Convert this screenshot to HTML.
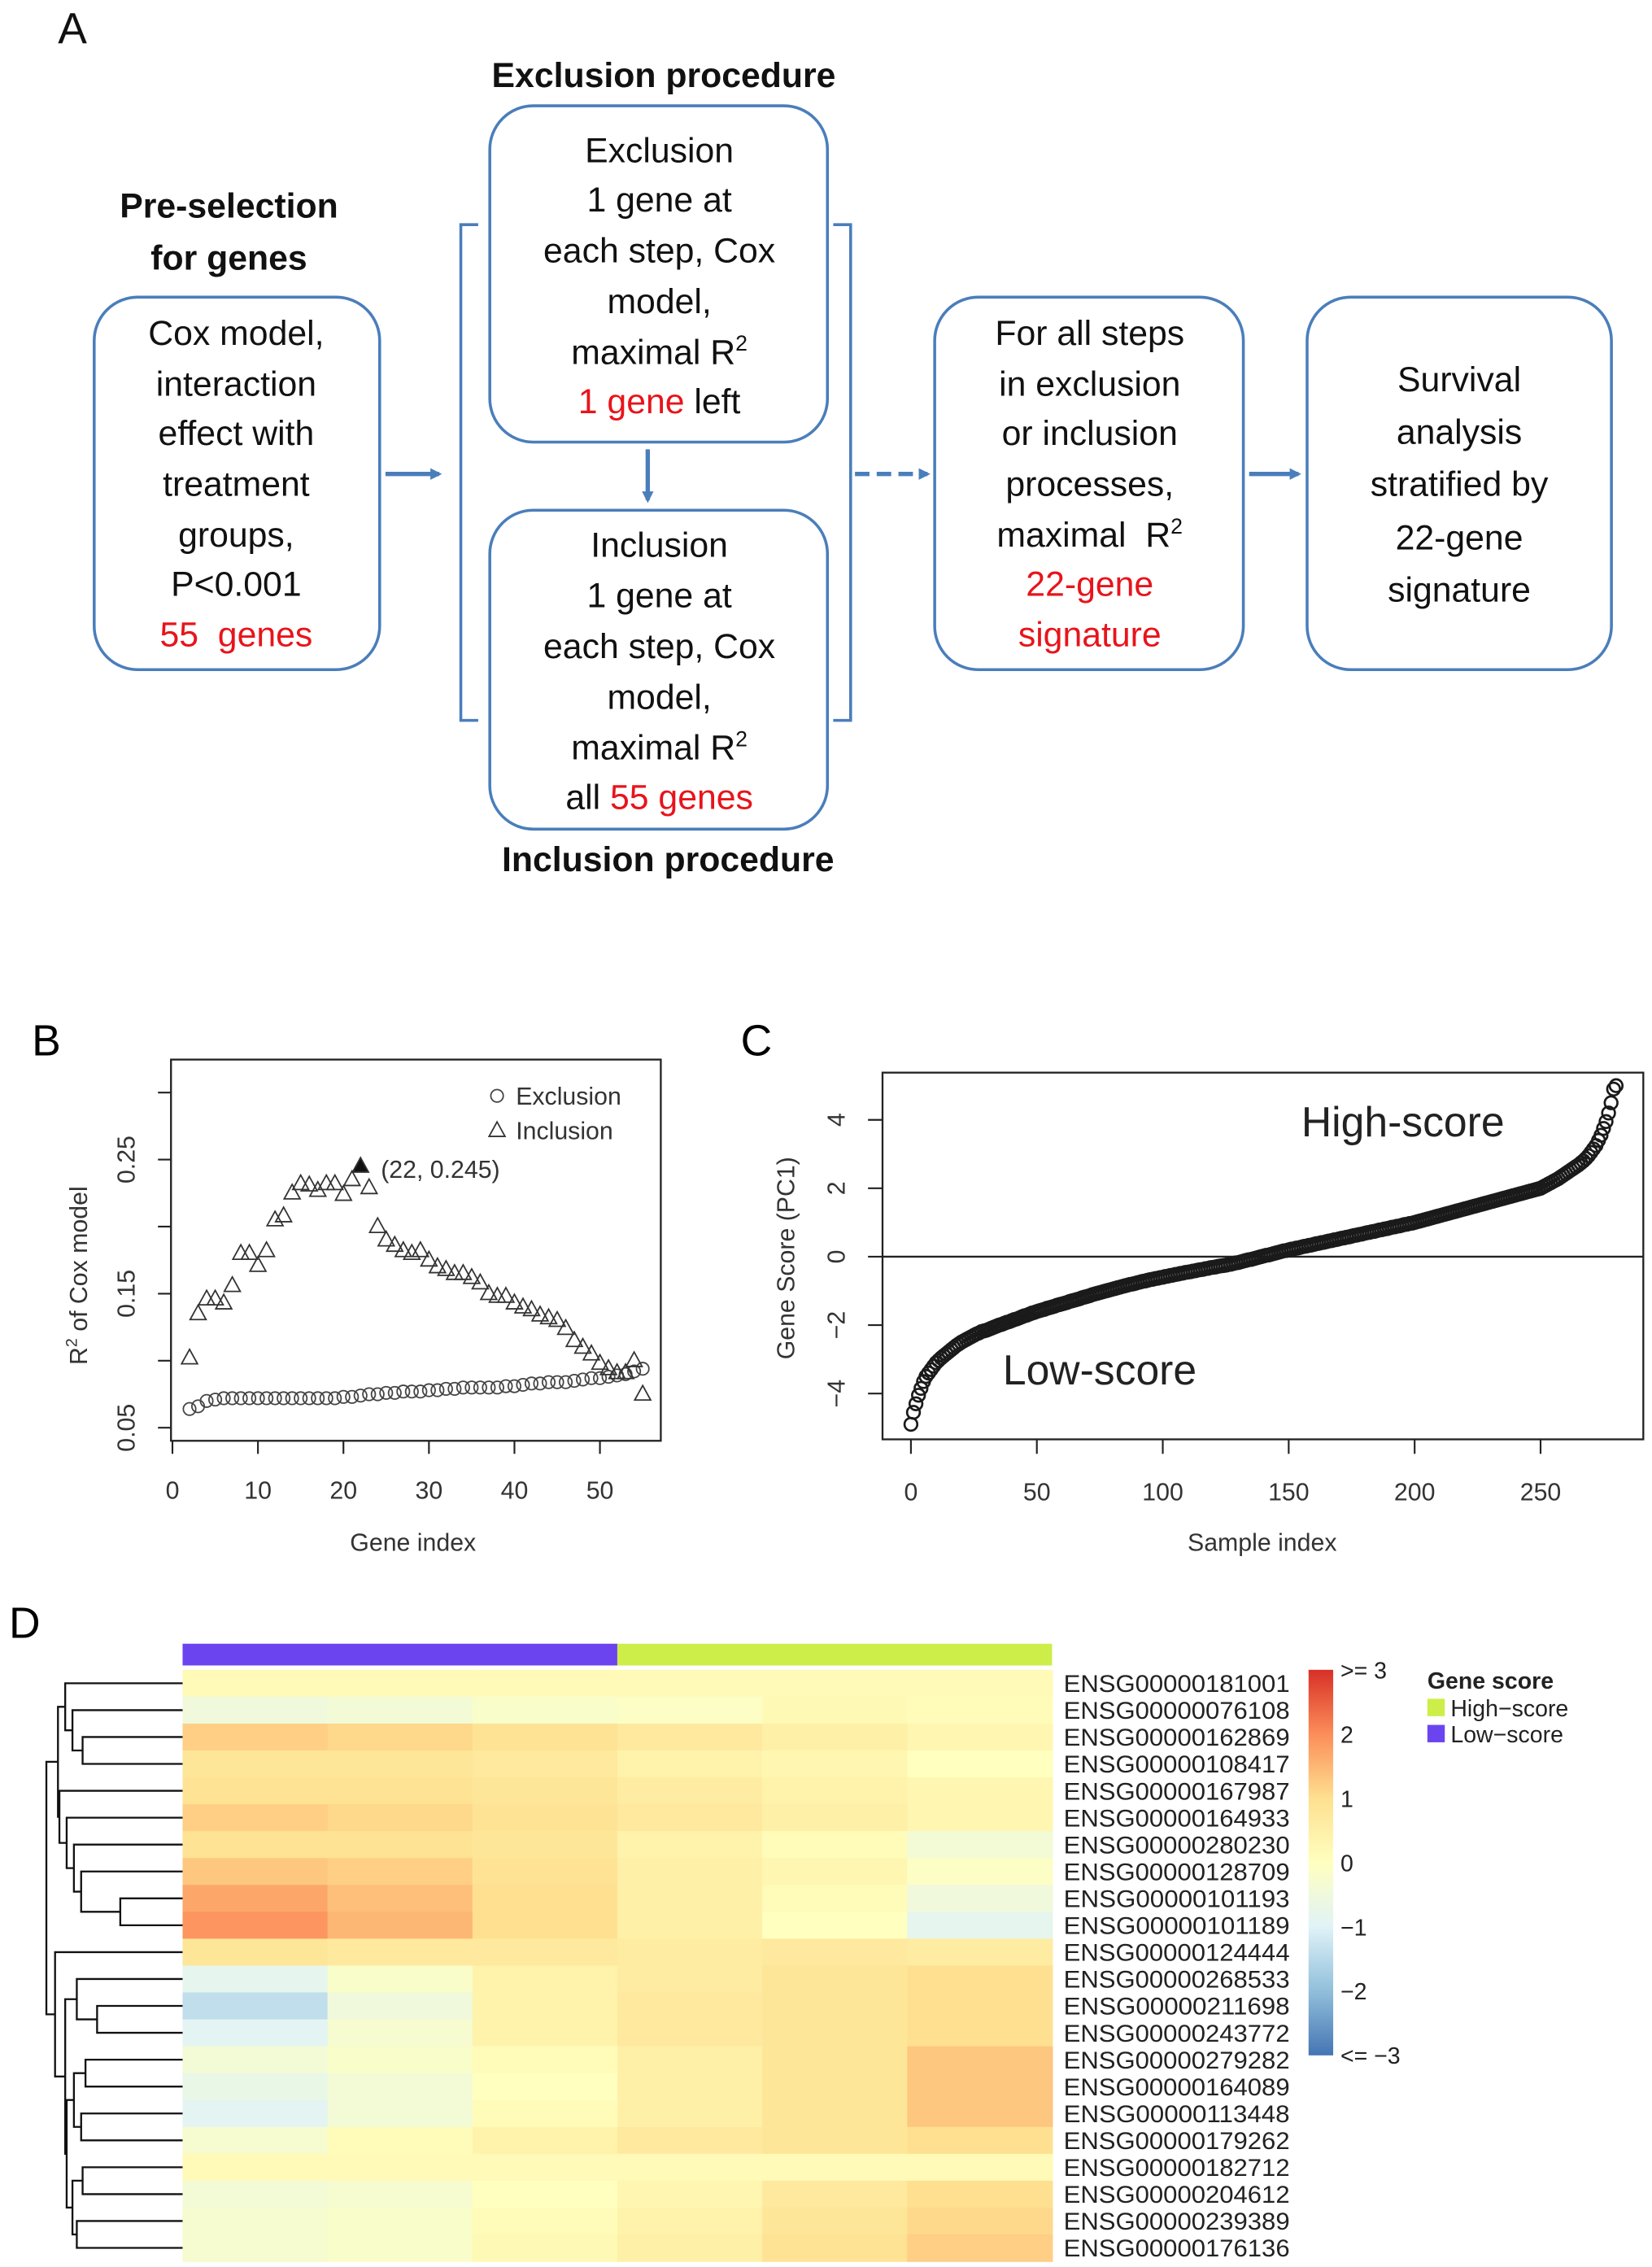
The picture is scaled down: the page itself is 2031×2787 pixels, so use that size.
<!DOCTYPE html>
<html><head><meta charset="utf-8">
<style>
html,body{margin:0;padding:0;background:#fff;}
svg{display:block;}
text{font-family:"Liberation Sans",Arial,sans-serif;}
</style></head>
<body>
<svg id="fig" width="2031" height="2787" viewBox="0 0 1140 1564" preserveAspectRatio="none" xmlns="http://www.w3.org/2000/svg">
<defs>
<marker id="ah" markerWidth="8" markerHeight="8" refX="6" refY="4" orient="auto" markerUnits="userSpaceOnUse"><path d="M0,0 L8,4 L0,8 z" fill="#4a7ebb"/></marker>
<linearGradient id="cbar" x1="0" y1="1" x2="0" y2="0">
<stop offset="0" stop-color="#4575b4"/><stop offset="0.1667" stop-color="#91bfdb"/><stop offset="0.3333" stop-color="#e0f3f8"/><stop offset="0.5" stop-color="#ffffbf"/><stop offset="0.6667" stop-color="#fee090"/><stop offset="0.8333" stop-color="#fc8d59"/><stop offset="1" stop-color="#d73027"/>
</linearGradient>
</defs>

<g font-size="24" text-anchor="middle" fill="#111">
<text x="50" y="30" font-size="30" text-anchor="middle">A</text>
<text x="158" y="150" font-weight="bold" font-size="24">Pre-selection</text>
<text x="158" y="186" font-weight="bold" font-size="24">for genes</text>
<text x="458" y="60" font-weight="bold" font-size="24">Exclusion procedure</text>
<text x="461" y="601" font-weight="bold" font-size="24">Inclusion procedure</text>

<g>
<rect x="65" y="205" width="197" height="257" rx="30" fill="none" stroke="#4a7ebb" stroke-width="2"/>
<text x="163" y="238">Cox model,</text><text x="163" y="273">interaction</text><text x="163" y="307">effect with</text><text x="163" y="342">treatment</text><text x="163" y="377">groups,</text><text x="163" y="411">P&lt;0.001</text><text x="163" y="446" fill="#e8141b" xml:space="preserve">55  genes</text>
</g>
<g>
<rect x="338" y="73" width="233" height="232" rx="30" fill="none" stroke="#4a7ebb" stroke-width="2"/>
<text x="455" y="112">Exclusion</text><text x="455" y="146">1 gene at</text><text x="455" y="181">each step, Cox</text><text x="455" y="216">model,</text><text x="455" y="251">maximal R<tspan font-size="15" dy="-9">2</tspan></text><text x="455" y="285"><tspan fill="#e8141b">1 gene</tspan> left</text>
</g>
<g>
<rect x="338" y="352" width="233" height="220" rx="30" fill="none" stroke="#4a7ebb" stroke-width="2"/>
<text x="455" y="384">Inclusion</text><text x="455" y="419">1 gene at</text><text x="455" y="454">each step, Cox</text><text x="455" y="489">model,</text><text x="455" y="524">maximal R<tspan font-size="15" dy="-9">2</tspan></text><text x="455" y="558">all <tspan fill="#e8141b">55 genes</tspan></text>
</g>
<g>
<rect x="645" y="205" width="213" height="257" rx="30" fill="none" stroke="#4a7ebb" stroke-width="2"/>
<text x="752" y="238">For all steps</text><text x="752" y="273">in exclusion</text><text x="752" y="307">or inclusion</text><text x="752" y="342">processes,</text><text x="752" y="377" xml:space="preserve">maximal  R<tspan font-size="15" dy="-9">2</tspan></text><text x="752" y="411" fill="#e8141b">22-gene</text><text x="752" y="446" fill="#e8141b">signature</text>
</g>
<g>
<rect x="902" y="205" width="210" height="257" rx="30" fill="none" stroke="#4a7ebb" stroke-width="2"/>
<text x="1007" y="270">Survival</text><text x="1007" y="306">analysis</text><text x="1007" y="342">stratified by</text><text x="1007" y="379">22-gene</text><text x="1007" y="415">signature</text>
</g>
<g fill="none" stroke="#4a7ebb" stroke-width="2">
<path d="M330,155 L318,155 L318,497 L330,497"/>
<path d="M575,155 L587,155 L587,497 L575,497"/>
</g>
<g stroke="#4a7ebb" stroke-width="3" fill="none">
<line x1="266" y1="327" x2="303" y2="327" marker-end="url(#ah)"/>
<line x1="447" y1="310" x2="447" y2="345" marker-end="url(#ah)"/>
<line x1="590" y1="327" x2="640" y2="327" stroke-dasharray="10,5" marker-end="url(#ah)"/>
<line x1="862" y1="327" x2="896" y2="327" marker-end="url(#ah)"/>
</g>
</g>

<g id="panelB">
<text x="32" y="728" font-size="30" text-anchor="middle">B</text>
</g>
<g id="panelC">
<text x="522" y="728" font-size="30" text-anchor="middle">C</text>
</g>
<g id="panelD">
<text x="17" y="1130" font-size="30" text-anchor="middle">D</text>
</g>
</svg>
<script>
const NS='http://www.w3.org/2000/svg';
function mk(tag,attrs,parent,txt){const e=document.createElementNS(NS,tag);for(const k in attrs)e.setAttribute(k,attrs[k]);if(txt!==undefined)e.textContent=txt;parent.appendChild(e);return e;}

// ---------- Panel B data ----------
const bExclIndex=[2,3,4,5,6,7,8,9,10,11,12,13,14,15,16,17,18,19,20,21,22,23,24,25,26,27,28,29,30,31,32,33,34,35,36,37,38,39,40,41,42,43,44,45,46,47,48,49,50,51,52,53,54,55];
const bExclValues=[0.064,0.066,0.070,0.071,0.072,0.072,0.072,0.072,0.072,0.072,0.072,0.072,0.072,0.072,0.072,0.072,0.072,0.072,0.073,0.073,0.074,0.075,0.075,0.076,0.076,0.077,0.077,0.077,0.078,0.078,0.079,0.079,0.080,0.080,0.080,0.080,0.080,0.081,0.081,0.082,0.083,0.083,0.084,0.084,0.084,0.085,0.086,0.087,0.087,0.088,0.089,0.090,0.092,0.094];
const bInclIndex=[2,3,4,5,6,7,8,9,10,11,12,13,14,15,16,17,18,19,20,21,22,23,24,25,26,27,28,29,30,31,32,33,34,35,36,37,38,39,40,41,42,43,44,45,46,47,48,49,50,51,52,53,54,55];
const bInclValues=[0.102,0.135,0.146,0.146,0.143,0.156,0.180,0.180,0.171,0.182,0.205,0.208,0.225,0.232,0.231,0.227,0.232,0.232,0.224,0.235,0.245,0.229,0.200,0.190,0.186,0.182,0.180,0.182,0.175,0.170,0.168,0.165,0.165,0.162,0.158,0.150,0.148,0.148,0.143,0.140,0.138,0.134,0.132,0.130,0.124,0.115,0.110,0.105,0.098,0.094,0.091,0.091,0.100,0.075];
const bHighlight=22;
const bXTicks=[0,10,20,30,40,50];
const bYTicks=[0.05,0.10,0.15,0.20,0.25,0.30];
const bYLabels=[0.05,0.15,0.25];

(function(){
 const g=document.getElementById('panelB');
 const L=118,R=456,T=731,B=994;
 const xs=v=>119+(v-0)*5.9;
 const ys=v=>985-(v-0.05)*925;
 let e=mk('rect',{x:L,y:T,width:R-L,height:B-T,fill:'none',stroke:'#222','stroke-width':1.3},g);
 
 bXTicks.forEach(t=>{
  e=mk('line',{x1:xs(t),x2:xs(t),y1:B,y2:B+9,stroke:'#222','stroke-width':1.2},g);
  
  e=mk('text',{x:xs(t),y:B+40,'font-size':17,'text-anchor':'middle',fill:'#333'},g,String(t));
  
 });
 bYTicks.forEach(t=>{
  e=mk('line',{x1:L,x2:L-9,y1:ys(t),y2:ys(t),stroke:'#222','stroke-width':1.2},g);
  
 });
 bYLabels.forEach(t=>{
  e=mk('text',{x:0,y:0,'font-size':17,'text-anchor':'middle',fill:'#333',transform:`translate(93,${ys(t)}) rotate(-90)`},g,t.toFixed(2));
  
 });
 e=mk('text',{x:0,y:0,'font-size':17,'text-anchor':'middle',fill:'#333',transform:'translate(60,880) rotate(-90)'},g);
 e.innerHTML='R<tspan font-size="11" dy="-7">2</tspan><tspan dy="7"> of Cox model</tspan>';
 
 e=mk('text',{x:285,y:1070,'font-size':17,'text-anchor':'middle',fill:'#333'},g,'Gene index');
 
 bExclIndex.forEach((ix,i)=>{
  e=mk('circle',{cx:xs(ix),cy:ys(bExclValues[i]),r:4.3,fill:'none',stroke:'#444','stroke-width':1},g);
  
 });
 bInclIndex.forEach((ix,i)=>{
  const x=xs(ix),y=ys(bInclValues[i]);
  e=mk('path',{d:`M${x},${y-6} L${x+5.5},${y+4} L${x-5.5},${y+4} Z`,fill:ix===bHighlight?'#111':'none',stroke:'#333','stroke-width':1},g);
  
 });
 e=mk('text',{x:xs(bHighlight)+14,y:ys(0.245)+8,'font-size':17,fill:'#333'},g,'(22, 0.245)');
 
 e=mk('circle',{cx:343,cy:756,r:4.3,fill:'none',stroke:'#444'},g);
 
 e=mk('text',{x:356,y:762,'font-size':17,fill:'#333'},g,'Exclusion');
 
 e=mk('path',{d:'M343,774 L348.5,784 L337.5,784 Z',fill:'none',stroke:'#333'},g);
 
 e=mk('text',{x:356,y:786,'font-size':17,fill:'#333'},g,'Inclusion');
 
})();

// ---------- Panel C data ----------
const cScores=[-4.9,-4.55,-4.3,-4.05,-3.85,-3.65,-3.5,-3.4,-3.3,-3.2,
-3.1,-3.03,-2.96,-2.9,-2.84,-2.78,-2.72,-2.66,-2.6,-2.55,
-2.5,-2.46,-2.42,-2.38,-2.34,-2.3,-2.26,-2.23,-2.19,-2.17,
-2.15,-2.12,-2.09,-2.06,-2.03,-2.0,-1.98,-1.95,-1.92,-1.9,
-1.87,-1.84,-1.82,-1.79,-1.76,-1.73,-1.71,-1.68,-1.65,-1.63,
-1.6,-1.58,-1.56,-1.54,-1.51,-1.49,-1.47,-1.45,-1.42,-1.4,
-1.38,-1.36,-1.34,-1.31,-1.29,-1.27,-1.25,-1.23,-1.2,-1.18,
-1.16,-1.14,-1.11,-1.09,-1.07,-1.05,-1.03,-1.01,-0.99,-0.97,
-0.95,-0.93,-0.91,-0.89,-0.87,-0.85,-0.83,-0.81,-0.8,-0.78,
-0.76,-0.74,-0.72,-0.71,-0.69,-0.67,-0.66,-0.64,-0.63,-0.61,
-0.6,-0.58,-0.57,-0.55,-0.54,-0.52,-0.51,-0.49,-0.48,-0.46,
-0.45,-0.44,-0.42,-0.41,-0.39,-0.38,-0.37,-0.35,-0.34,-0.32,
-0.31,-0.3,-0.28,-0.27,-0.26,-0.25,-0.23,-0.22,-0.2,-0.18,
-0.17,-0.15,-0.13,-0.11,-0.09,-0.08,-0.06,-0.04,-0.02,0.0,
0.02,0.04,0.05,0.07,0.09,0.11,0.13,0.15,0.17,0.18,
0.2,0.22,0.23,0.25,0.26,0.28,0.3,0.31,0.33,0.34,
0.36,0.38,0.39,0.41,0.42,0.44,0.46,0.47,0.49,0.5,
0.52,0.54,0.55,0.57,0.58,0.6,0.62,0.63,0.65,0.66,
0.68,0.7,0.71,0.73,0.74,0.76,0.78,0.79,0.81,0.82,
0.84,0.86,0.87,0.89,0.9,0.92,0.94,0.95,0.97,0.98,
1.0,1.02,1.04,1.06,1.08,1.1,1.12,1.14,1.16,1.18,
1.2,1.22,1.24,1.26,1.28,1.3,1.32,1.34,1.36,1.38,
1.4,1.42,1.44,1.46,1.48,1.5,1.52,1.54,1.56,1.58,
1.6,1.62,1.64,1.66,1.68,1.7,1.72,1.74,1.76,1.78,
1.8,1.82,1.84,1.86,1.88,1.9,1.92,1.94,1.96,1.98,
2.0,2.04,2.08,2.12,2.16,2.2,2.24,2.28,2.33,2.38,
2.43,2.48,2.53,2.58,2.63,2.68,2.74,2.8,2.87,2.95,
3.05,3.15,3.25,3.4,3.55,3.75,3.95,4.2,4.5,4.9,5.0];
const cXTicks=[0,50,100,150,200,250];
const cYTicks=[-4,-2,0,2,4];

(function(){
 const g=document.getElementById('panelC');
 const L=609,R=1134,T=740,B=993;
 const xs=v=>628.6+v*1.738;
 const ys=v=>867-v*23.6;
 let e=mk('rect',{x:L,y:T,width:R-L,height:B-T,fill:'none',stroke:'#222','stroke-width':1.3},g);
 
 e=mk('line',{x1:L,x2:R,y1:ys(0),y2:ys(0),stroke:'#222','stroke-width':1.3},g);
 
 cXTicks.forEach(t=>{
  e=mk('line',{x1:xs(t),x2:xs(t),y1:B,y2:B+10,stroke:'#222','stroke-width':1.2},g);
  
  e=mk('text',{x:xs(t),y:B+42,'font-size':17,'text-anchor':'middle',fill:'#333'},g,String(t));
  
 });
 cYTicks.forEach(t=>{
  e=mk('line',{x1:L,x2:L-10,y1:ys(t),y2:ys(t),stroke:'#222','stroke-width':1.2},g);
  
  e=mk('text',{x:0,y:0,'font-size':17,'text-anchor':'middle',fill:'#333',transform:`translate(583,${ys(t)}) rotate(-90)`},g,t<0?'\u2212'+(-t):String(t));
  
 });
 e=mk('text',{x:0,y:0,'font-size':17,'text-anchor':'middle',fill:'#333',transform:'translate(548,868) rotate(-90)'},g,'Gene Score (PC1)');
 
 e=mk('text',{x:871,y:1070,'font-size':17,'text-anchor':'middle',fill:'#333'},g,'Sample index');
 
 cScores.forEach((v,i)=>{
  e=mk('circle',{cx:xs(i),cy:ys(v),r:4.4,fill:'none',stroke:'#1a1a1a','stroke-width':1.5},g);
  
 });
 e=mk('text',{x:898,y:784,'font-size':29,fill:'#222'},g,'High-score');
 
 e=mk('text',{x:692,y:955,'font-size':29,fill:'#222'},g,'Low-score');
 
})();

// ---------- Panel D data ----------
const dGenes=['ENSG00000181001','ENSG00000076108','ENSG00000162869','ENSG00000108417','ENSG00000167987','ENSG00000164933','ENSG00000280230','ENSG00000128709','ENSG00000101193','ENSG00000101189','ENSG00000124444','ENSG00000268533','ENSG00000211698','ENSG00000243772','ENSG00000279282','ENSG00000164089','ENSG00000113448','ENSG00000179262','ENSG00000182712','ENSG00000204612','ENSG00000239389','ENSG00000176136'];
const dSegLow1=[0.15,-0.5,1.2,0.8,0.9,1.2,0.9,1.3,1.7,1.9,0.8,-0.8,-1.4,-0.9,-0.4,-0.7,-0.9,-0.3,0.15,-0.4,-0.3,-0.3];
const dSegLow2=[0.15,-0.4,1.1,0.8,0.9,1.1,0.9,1.2,1.4,1.5,0.7,-0.2,-0.5,-0.3,-0.2,-0.4,-0.4,0.1,0.15,-0.3,-0.2,-0.2];
const dSegLow3=[0.15,-0.2,0.9,0.7,0.8,0.9,0.8,0.9,1.0,1.0,0.7,0.4,0.4,0.4,0.1,0.0,0.1,0.4,0.15,0.0,0.1,0.2];
const dSegHigh1=[0.15,-0.1,0.7,0.4,0.6,0.7,0.4,0.5,0.5,0.5,0.6,0.6,0.7,0.7,0.5,0.5,0.5,0.7,0.15,0.3,0.4,0.5];
const dSegHigh2=[0.15,0.2,0.5,0.3,0.4,0.5,0.1,0.3,0.1,0.0,0.7,0.8,0.8,0.8,0.8,0.8,0.8,0.8,0.15,0.7,0.8,0.9];
const dSegHigh3=[0.15,0.1,0.3,0.0,0.3,0.3,-0.4,-0.1,-0.5,-0.8,0.6,1.0,1.0,1.0,1.3,1.3,1.3,1.0,0.15,1.0,1.1,1.2];
const dGroups=['Low-score','High-score'];
const dGroupColors=['#6b44f0','#cdee48'];
const dColorTicks=['>= 3','2','1','0','\u22121','\u22122','<= \u22123'];
const dMerges=[[8,9,83],[7,22,56],[6,23,51],[5,24,46],[4,25,41],[2,3,57],[1,27,50],[0,28,45],[29,26,40],
[12,13,67],[11,31,53],[14,15,59],[16,17,56],[33,34,51],[18,19,57],[20,21,53],[36,37,50],[35,38,46],[32,39,45],[10,40,38],[30,41,32]];

(function(){
 const g=document.getElementById('panelD');
 const HX0=126,HX1=726,HY0=1152,RH=18.55;
 const segs=[dSegLow1,dSegLow2,dSegLow3,dSegHigh1,dSegHigh2,dSegHigh3];
 const stops=[[-3,[69,117,180]],[-2,[145,191,219]],[-1,[224,243,248]],[0,[255,255,191]],[1,[254,224,144]],[2,[252,141,89]],[3,[215,48,39]]];
 function col(v){v=Math.max(-3,Math.min(3,v));for(let i=0;i<stops.length-1;i++){if(v<=stops[i+1][0]){const t=(v-stops[i][0]);const a=stops[i][1],b=stops[i+1][1];return 'rgb('+a.map((c,k)=>Math.round(c+(b[k]-c)*t)).join(',')+')';}}return 'rgb(215,48,39)';}
 const ry=i=>HY0+RH*(i+0.5);
 const sw=(HX1-HX0)/segs.length;
 let e;
 dGroups.forEach((gname,i)=>{
  e=mk('rect',{x:HX0+i*(HX1-HX0)/2,y:1134,width:(HX1-HX0)/2,height:15,fill:dGroupColors[i]},g);
  
 });
 dGenes.forEach((gene,r)=>{
  segs.forEach((arr,s)=>{
   e=mk('rect',{x:HX0+s*sw,y:HY0+r*RH,width:sw+0.6,height:RH+0.4,fill:col(arr[r])},g);
   
  });
  e=mk('text',{x:734,y:ry(r)+6,'font-size':16.5,fill:'#222',textLength:156,lengthAdjust:'spacingAndGlyphs'},g,gene);
  
 });
 const pos={},ht={};
 for(let i=0;i<dGenes.length;i++){pos[i]=ry(i);ht[i]=HX0;}
 dMerges.forEach((m,k)=>{
  const id=dGenes.length+k,a=m[0],b=m[1],h=m[2];
  e=mk('path',{d:`M${ht[a]},${pos[a]} L${h},${pos[a]} L${h},${pos[b]} L${ht[b]},${pos[b]}`,fill:'none',stroke:'#111','stroke-width':1.3},g);
  
  pos[id]=(pos[a]+pos[b])/2;ht[id]=h;
 });
 e=mk('rect',{x:903,y:1152,width:17,height:266,fill:'url(#cbar)'},g);
 
 dColorTicks.forEach((t,i)=>{
  e=mk('text',{x:925,y:1158+i*44.3,'font-size':16,fill:'#222'},g,t);
  
 });
 e=mk('text',{x:985,y:1165,'font-size':16,'font-weight':'bold',fill:'#222'},g,'Gene score');
 
 e=mk('rect',{x:985,y:1172,width:12,height:12,fill:dGroupColors[1]},g);
 
 e=mk('text',{x:1001,y:1184,'font-size':16,fill:'#222'},g,'High\u2212score');
 
 e=mk('rect',{x:985,y:1190,width:12,height:12,fill:dGroupColors[0]},g);
 
 e=mk('text',{x:1001,y:1202,'font-size':16,fill:'#222'},g,'Low\u2212score');
 
})();
</script>
</body></html>
